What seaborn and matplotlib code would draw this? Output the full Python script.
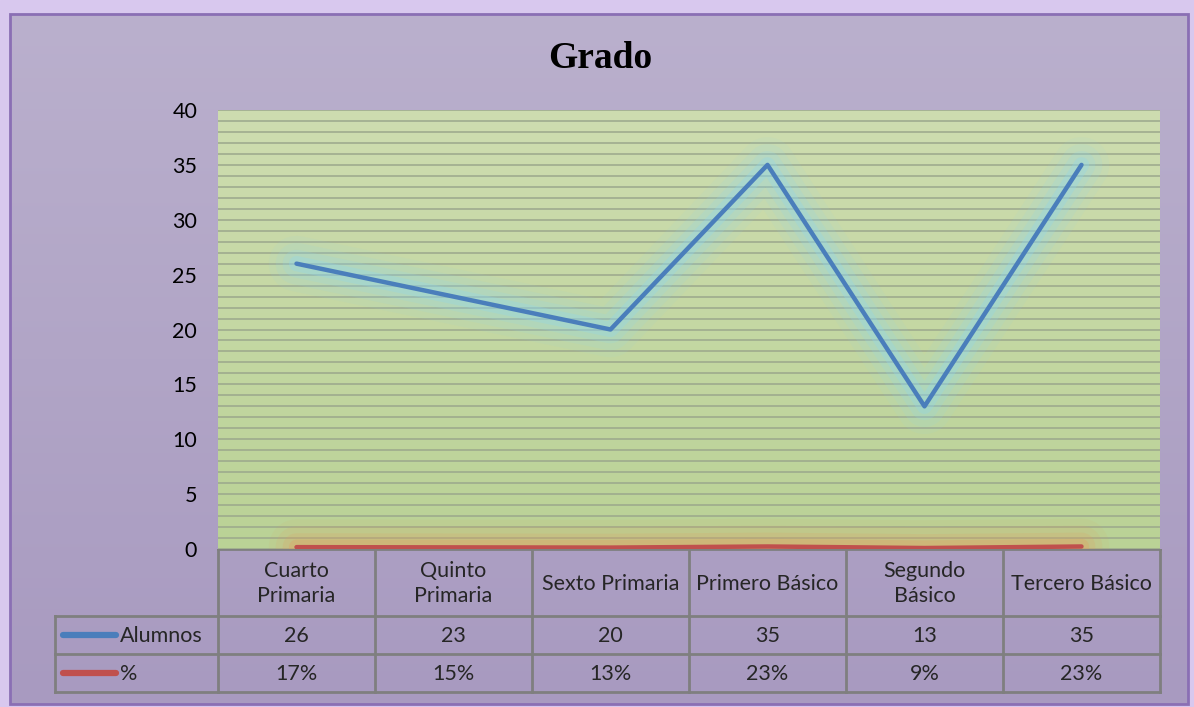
import numpy as np
import matplotlib
matplotlib.use("Agg")
import matplotlib.pyplot as plt
import matplotlib.patheffects as pe
from matplotlib.patches import Rectangle
import seaborn as sns

# datos del grafico
grados = ["Cuarto\nPrimaria", "Quinto\nPrimaria", "Sexto Primaria",
          "Primero Básico", "Segundo\nBásico", "Tercero Básico"]
alumnos = [26, 23, 20, 35, 13, 35]
porcentaje = [0.17, 0.15, 0.13, 0.23, 0.09, 0.23]
series = ["Alumnos", "%"]
y_ticks = [0, 5, 10, 15, 20, 25, 30, 35, 40]

sns.set_theme(style="white")
plt.rcParams["font.family"] = ["Lato", "DejaVu Sans"]

W, H = 1194, 707
fig = plt.figure(figsize=(W / 100, H / 100), dpi=100)


def box(x0, y0, x1, y1):
    # pixeles -> fraccion de figura
    return [x0 / W, 1 - y1 / H, (x1 - x0) / W, (y1 - y0) / H]


# fondo con degradado
bg = fig.add_axes([0, 0, 1, 1])
bg.set_axis_off()
bg.set_xlim(0, W)
bg.set_ylim(H, 0)
bg.add_patch(Rectangle((0, 0), W, H, color="#d8c8ee", zorder=0))
grad = np.linspace(0, 1, 256).reshape(-1, 1)
top = np.array([186, 176, 205]) / 255
bot = np.array([168, 154, 192]) / 255
img = top + (bot - top) * grad[..., None]
bg.imshow(img, extent=(10, 1188, 704, 14), aspect="auto", zorder=1)
bg.add_patch(Rectangle((10, 14), 1178, 690, fill=False, ec="#8a6fb4", lw=2, zorder=2))
bg.text(600, 58, "Grado", ha="center", va="center", fontsize=27, fontweight="bold",
        family=["Liberation Serif", "DejaVu Serif"], color="black")

# area del grafico
L, R, T, B = 218, 1160, 110, 549
ax = fig.add_axes(box(L, T, R, B))
gtop = np.array([206, 221, 176]) / 255
gbot = np.array([186, 210, 150]) / 255
gimg = gtop + (gbot - gtop) * grad[..., None]
ax.imshow(gimg, extent=(-0.5, 5.5, 0, 40), aspect="auto", zorder=0)

x = np.arange(len(grados))
l1 = sns.lineplot(x=x, y=alumnos, ax=ax, color="#4a7ebb", lw=3.2, zorder=5).lines[-1]
l2 = sns.lineplot(x=x, y=porcentaje, ax=ax, color="#c0504d", lw=3.2, zorder=4).lines[-1]
l1.set_path_effects([pe.Stroke(linewidth=40, foreground="#8fd6ec", alpha=0.08),
                     pe.Stroke(linewidth=30, foreground="#8fd6ec", alpha=0.12),
                     pe.Stroke(linewidth=20, foreground="#8fd6ec", alpha=0.18),
                     pe.Stroke(linewidth=11, foreground="#8fd6ec", alpha=0.3),
                     pe.Normal()])
l2.set_path_effects([pe.Stroke(linewidth=40, foreground="#e0a060", alpha=0.08),
                     pe.Stroke(linewidth=30, foreground="#e0a060", alpha=0.12),
                     pe.Stroke(linewidth=20, foreground="#e0a060", alpha=0.18),
                     pe.Stroke(linewidth=11, foreground="#e0a060", alpha=0.3),
                     pe.Normal()])

ax.set_xlim(-0.5, 5.5)
ax.set_ylim(0, 40)
ax.set_yticks(y_ticks)
ax.set_yticks(np.arange(0, 41, 1), minor=True)
ax.yaxis.grid(True, which="both", color="#9ba78c", lw=1.1, zorder=1)
ax.set_axisbelow(False)
for ln in ax.get_ygridlines():
    ln.set_zorder(1)
ax.set_xticks([])
ax.tick_params(axis="y", length=0, labelsize=15.5, labelcolor="black", pad=15)
for s in ax.spines.values():
    s.set_visible(False)
ax.patch.set_alpha(0)

# tabla de datos
tab = fig.add_axes(box(0, B, R + 4, 700))
tab.set_axis_off()
tab.set_xlim(0, R + 4)
tab.set_ylim(700, B)
col_w = (R - L) / len(grados)
r0, r1, r2, r3 = B, 616, 654, 692
gris = "#7f7f7f"
kw = dict(color=gris, lw=2, solid_capstyle="projecting")
tab.plot([L, R], [r0, r0], **kw)
tab.plot([55, R], [r1, r1], **kw)
tab.plot([55, R], [r2, r2], **kw)
tab.plot([55, R], [r3, r3], **kw)
tab.plot([55, 55], [r1, r3], **kw)
for i in range(len(grados) + 1):
    xc = L + i * col_w
    tab.plot([xc, xc], [r0, r3], **kw)

fs = 15.5
for i, g in enumerate(grados):
    xc = L + (i + 0.5) * col_w
    tab.text(xc, (r0 + r1) / 2 + 1, g, ha="center", va="center", fontsize=fs,
             linespacing=1.3)
    tab.text(xc, (r1 + r2) / 2 + 1, str(alumnos[i]), ha="center", va="center", fontsize=fs)
    tab.text(xc, (r2 + r3) / 2 + 1, f"{porcentaje[i]:.0%}", ha="center", va="center", fontsize=fs)

for j, (nombre, col) in enumerate(zip(series, ["#4a7ebb", "#c0504d"])):
    yc = [(r1 + r2) / 2, (r2 + r3) / 2][j]
    tab.plot([63, 116], [yc, yc], color=col, lw=4.5, solid_capstyle="round")
    tab.text(120, yc + 1, nombre, ha="left", va="center", fontsize=fs)

fig.savefig("out.png", dpi=100)
